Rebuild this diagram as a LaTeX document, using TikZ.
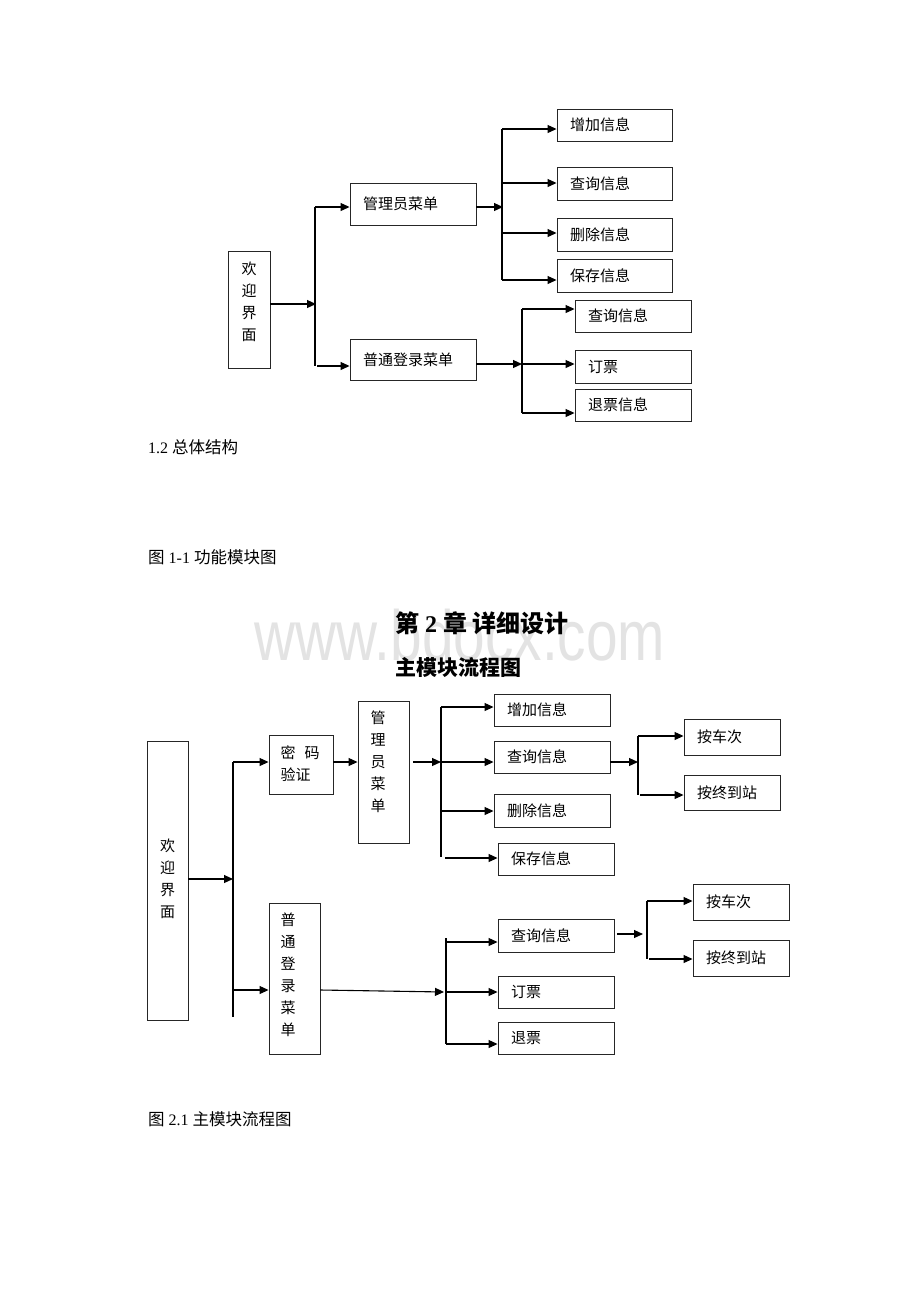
\documentclass[tikz,border=0pt]{standalone}
\usepackage{fontspec}
\setmainfont{Liberation Serif}
\newfontfamily\cjk{Noto Sans CJK SC}
\newfontfamily\wmfont{Liberation Sans}
\usetikzlibrary{arrows.meta}
\tikzset{
  x=1pt, y=-1pt,
  bx/.style={draw=black!85, line width=0.9pt, inner ysep=0pt, inner xsep=13pt, align=left,
             font=\cjk\fontsize{15}{18}\selectfont},
  vbx/.style={draw=black!85, line width=0.9pt, inner sep=0pt},
  vtxt/.style={inner sep=0pt, align=center, font=\cjk\fontsize{15}{22}\selectfont},
  ln/.style={line width=1.1pt, black},
  arr/.style={ln, -{Triangle[length=9pt,width=8pt]}},
  captxt/.style={inner sep=0pt, anchor=west, font=\fontsize{16}{18}\selectfont},
}
\newcommand\hz{\cjk\fontsize{16.5}{18}\selectfont}
\begin{document}
\begin{tikzpicture}
\useasboundingbox (0,0) rectangle (920,1302);
\fill[white] (0,0) rectangle (920,1302);
% watermark
\node[inner sep=0pt, anchor=base, text=black!11, xscale=0.8, font=\wmfont\fontsize{71}{80}\selectfont] (wm) at (460,660) {www.bdocx.com};

% ================= top diagram =================
\node[vbx, minimum width=42pt, minimum height=117pt] (wel1) at (249,309.5) {};
\node[vtxt] (wel1t) at (249,302) {欢\\迎\\界\\面};
\node[bx, minimum height=42pt, text width=100pt] (adm1) at (413,204) {管理员菜单};
\node[bx, minimum height=41pt, text width=100pt] (usr1) at (413,359.5) {普通登录菜单};
\node[bx, minimum height=32pt, text width=89pt] (a1) at (614.5,125) {增加信息};
\node[bx, minimum height=33pt, text width=89pt] (a2) at (614.5,183.5) {查询信息};
\node[bx, minimum height=33pt, text width=89pt] (a3) at (614.5,234.5) {删除信息};
\node[bx, minimum height=33pt, text width=89pt] (a4) at (614.5,275.5) {保存信息};
\node[bx, minimum height=32pt, text width=90pt] (u1) at (633,316) {查询信息};
\node[bx, minimum height=33pt, text width=90pt] (u2) at (633,366.5) {订票};
\node[bx, minimum height=32pt, text width=90pt] (u3) at (633,405) {退票信息};

\coordinate (t1) at (315,207);
\coordinate (t2) at (315,366);
\coordinate (t1m) at (316,304);
\coordinate (t2b) at (317,366);
\draw[ln] (t1) -- (t2);
\draw[arr] (wel1.east |- t1m) -- (t1m);
\draw[arr] (t1) -- (adm1.west |- t1);
\draw[arr] (t2b) -- (usr1.west |- t2b);

\coordinate (p1) at (502,129);
\coordinate (p4) at (502,280);
\coordinate (pm) at (503,207);
\draw[ln] (p1) -- (p4);
\draw[arr] (adm1.east |- pm) -- (pm);
\draw[arr] (p1) -- (a1.west |- p1);
\draw[arr] (p1 |- 0,183) -- (a2.west |- 0,183);
\draw[arr] (p1 |- 0,233) -- (a3.west |- 0,233);
\draw[arr] (p4) -- (a4.west |- p4);

\coordinate (q1) at (522,309);
\coordinate (q3) at (522,413);
\coordinate (qm) at (522,364);
\draw[ln] (q1) -- (q3);
\draw[arr] (usr1.east |- qm) -- (qm);
\draw[arr] (q1) -- (u1.west |- q1);
\draw[arr] (qm) -- (u2.west |- qm);
\draw[arr] (q3) -- (u3.west |- q3);

% ================= captions / headings =================
\node[captxt] (c12) at (148,447) {1.2 {\hz 总体结构}};
\node[captxt] (c11) at (148,557) {{\hz 图} 1-1 {\hz 功能模块图}};
\node[inner sep=0pt, anchor=west, font=\bfseries\fontsize{24}{26}\selectfont] (ch2) at (395,623)
  {{\cjk\bfseries 第} 2 {\cjk\bfseries 章 详细设计}};
\node[inner sep=0pt, anchor=west, font=\cjk\bfseries\fontsize{21}{24}\selectfont] (sub) at (395,667) {主模块流程图};
\node[captxt] (c21) at (148,1119) {{\hz 图} 2.1 {\hz 主模块流程图}};

% ================= bottom diagram =================
\node[vbx, minimum width=41pt, minimum height=279pt] (wel2) at (167.5,880.5) {};
\node[vtxt] (wel2t) at (167.5,879) {欢\\迎\\界\\面};
\node[vbx, minimum width=64pt, minimum height=59pt] (pwd) at (301,764.5) {};
\node[inner sep=0pt, align=left, font=\cjk\fontsize{15}{22}\selectfont] (pwdt) at (300,764) {密\hspace{9pt}码\\验证};
\node[vbx, minimum width=51pt, minimum height=142pt] (adm2) at (383.5,772) {};
\node[vtxt] (adm2t) at (378,761.5) {管\\理\\员\\菜\\单};
\node[vbx, minimum width=51pt, minimum height=151pt] (usr2) at (294.5,978.5) {};
\node[vtxt] (usr2t) at (288,975) {普\\通\\登\\录\\菜\\单};

\node[bx, minimum height=32pt, text width=90pt] (b1) at (552,710) {增加信息};
\node[bx, minimum height=32pt, text width=90pt] (b2) at (552,757) {查询信息};
\node[bx, minimum height=33pt, text width=90pt] (b3) at (552,810.5) {删除信息};
\node[bx, minimum height=32pt, text width=90pt] (b4) at (556,859) {保存信息};
\node[bx, minimum height=36pt, text width=70pt] (c1) at (732,737) {按车次};
\node[bx, minimum height=35pt, text width=70pt] (c2) at (732,792.5) {按终到站};

\node[bx, minimum height=33pt, text width=90pt] (d1) at (556,935.5) {查询信息};
\node[bx, minimum height=32pt, text width=90pt] (d2) at (556,992) {订票};
\node[bx, minimum height=32pt, text width=90pt] (d3) at (556,1038) {退票};
\node[bx, minimum height=36pt, text width=70pt] (e1) at (741,902) {按车次};
\node[bx, minimum height=36pt, text width=70pt] (e2) at (741,958) {按终到站};

% main bus
\coordinate (m1) at (233,762);
\coordinate (m2) at (233,1017);
\coordinate (mm) at (233,879);
\coordinate (mb) at (233,990);
\draw[ln] (m1) -- (m2);
\draw[arr] (wel2.east |- mm) -- (mm);
\draw[arr] (m1) -- (pwd.west |- m1);
\draw[arr] (mb) -- (usr2.west |- mb);
\draw[arr] (pwd.east |- m1) -- (adm2.west |- m1);

% admin bus
\coordinate (n1) at (441,707);
\coordinate (n2) at (441,762);
\coordinate (n3) at (441,811);
\coordinate (n4) at (441,857);
\coordinate (n4b) at (445,858);
\draw[ln] (n1) -- (n4);
\draw[arr] ([xshift=4pt]adm2.east |- n2) -- (n2);
\draw[arr] (n1) -- (b1.west |- n1);
\draw[arr] (n2) -- (b2.west |- n2);
\draw[arr] (n3) -- (b3.west |- n3);
\draw[arr] (n4b) -- (b4.west |- n4b);

% query sub-bus (admin)
\coordinate (s1) at (638,736);
\coordinate (s2) at (638,795);
\coordinate (sm) at (638,762);
\coordinate (s2b) at (640,795);
\draw[ln] (s1) -- (s2);
\draw[arr] (b2.east |- sm) -- (sm);
\draw[arr] (s1) -- (c1.west |- s1);
\draw[arr] (s2b) -- (c2.west |- s2b);

% user bus
\coordinate (k1) at (446,938);
\coordinate (k1b) at (446,942);
\coordinate (k2) at (446,992);
\coordinate (k3) at (446,1044);
\coordinate (kin) at (444,992);
\draw[ln] (k1) -- (k3);
\draw[arr] (usr2.east |- 0,990) -- (kin);
\draw[arr] (k1b) -- (d1.west |- k1b);
\draw[arr] (k2) -- (d2.west |- k2);
\draw[arr] (k3) -- (d3.west |- k3);

% query sub-bus (user)
\coordinate (r1) at (647,901);
\coordinate (r2) at (647,959);
\coordinate (rm) at (643,934);
\coordinate (r2b) at (649,959);
\draw[ln] (r1) -- (r2);
\draw[arr] ([xshift=3pt]d1.east |- rm) -- (rm);
\draw[arr] (r1) -- (e1.west |- r1);
\draw[arr] (r2b) -- (e2.west |- r2b);
\end{tikzpicture}
\end{document}
